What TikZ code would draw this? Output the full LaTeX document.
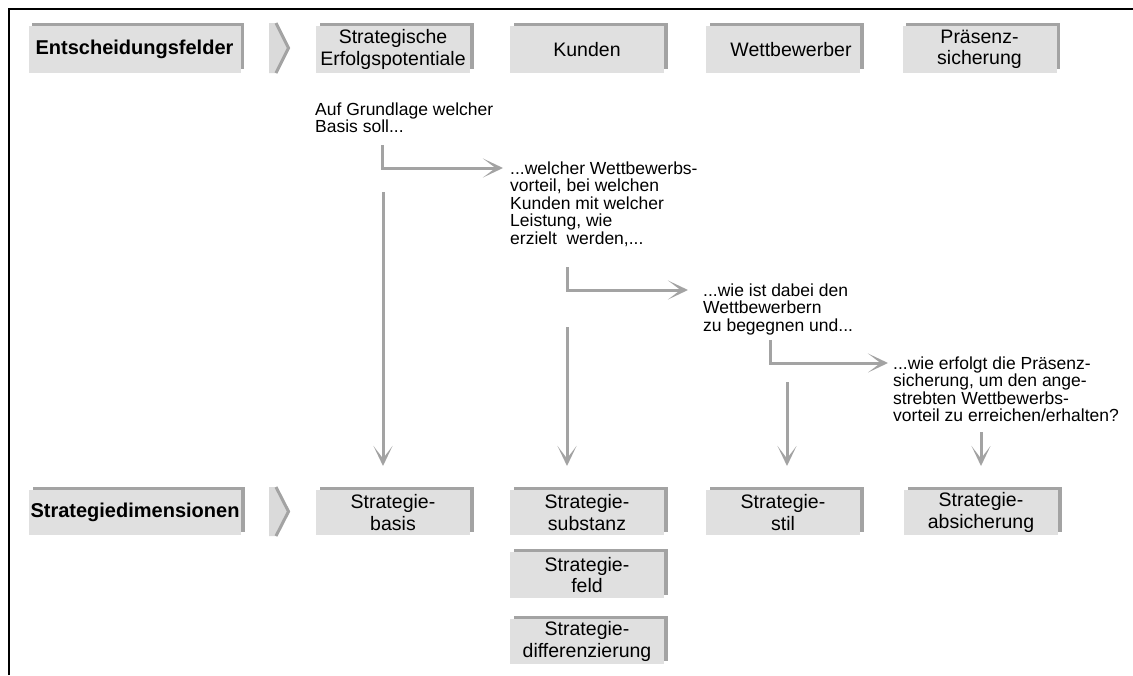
\documentclass[tikz,border=0pt]{standalone}
\usepackage{fontspec}
\setmainfont{Liberation Sans}
\usetikzlibrary{arrows.meta,shadows}
\definecolor{boxfill}{HTML}{E0E0E0}
\definecolor{boxshade}{HTML}{A3A3A3}
\definecolor{arrowgray}{HTML}{A3A3A3}
\definecolor{chevfill}{HTML}{DADADA}
\begin{document}
\begin{tikzpicture}[x=1pt,y=-1pt,
  box/.style={fill=boxfill, inner sep=0pt, minimum width=154pt, minimum height=46.5pt,
    align=center, font=\fontsize{19.5}{21.5}\selectfont,
    drop shadow={shadow xshift=3.5pt, shadow yshift=3.5pt, fill=boxshade, opacity=1}},
  labelbox/.style={box, minimum width=212pt, font=\bfseries\fontsize{20}{22}\selectfont},
  note/.style={anchor=base west, inner sep=0pt, font=\fontsize{17.5}{17.5}\selectfont},
  conn/.style={draw=arrowgray, line width=3pt, line join=miter,
    -{Stealth[length=20pt,width=19pt,inset=12.5pt,fill=arrowgray]}},
  chevedge/.style={draw=boxshade, line width=3pt, line join=miter},
]
\useasboundingbox (0,0) rectangle (1133,675);

% frame
\draw[line width=2.5pt, line join=miter] (9,675) -- (9,9) -- (1133,9);

% chevrons
\fill[chevfill] (269,23) -- (277,23) -- (290,48) -- (277,73) -- (269,73) -- cycle;
\draw[chevedge] (276,23) -- (288.5,48) -- (276,73);
\fill[chevfill] (269,487) -- (277,487) -- (290,511.5) -- (277,536) -- (269,536) -- cycle;
\draw[chevedge] (276,487) -- (288.5,511.5) -- (276,536);

% top row
\node[labelbox] (ef) at (134.5,49.5) {Entscheidungsfelder};
\node[box] (sep) at (393,49.5) {Strategische\\Erfolgspotentiale};
\node[box] (kun) at (587,49.5) {Kunden};
\node[box] (wet) at (783,49.5) {\hspace*{16pt}Wettbewerber};
\node[box] (pra) at (979.5,49.5) {Präsenz-\\sicherung};

% bottom row
\node[labelbox, minimum height=45pt] (sd) at (135,512.5) {Strategiedimensionen};
\node[box, minimum height=45pt] (sba) at (393,512.5) {Strategie-\\basis};
\node[box, minimum height=45pt] (ssu) at (587,512.5) {Strategie-\\substanz};
\node[box, minimum height=45pt] (sst) at (783,512.5) {Strategie-\\stil};
\node[box, minimum height=45pt] (sab) at (981,512.5) {Strategie-\\absicherung};
\node[box, minimum height=46pt] (sfe) at (587,575) {Strategie-\\feld};
\node[box, minimum height=45pt] (sdi) at (587,641.5) {Strategie-\\differenzierung};

% texts
\node[note] (t1) at (315,115) {\parbox[t]{220pt}{\raggedright Auf Grundlage welcher\\Basis soll...}};
\node[note] (t2) at (510,174) {\parbox[t]{200pt}{\raggedright ...welcher Wettbewerbs-\\vorteil, bei welchen\\Kunden mit welcher\\Leistung, wie\\erzielt\ \ werden,...}};
\node[note] (t3) at (703,296) {\parbox[t]{190pt}{\raggedright ...wie ist dabei den\\Wettbewerbern\\zu begegnen und...}};
\node[note] (t4) at (893,369) {\parbox[t]{240pt}{\raggedright ...wie erfolgt die Präsenz-\\sicherung, um den ange-\\strebten Wettbewerbs-\\vorteil zu erreichen/erhalten?}};

% connector points
\coordinate (a1s) at (382,145);
\coordinate (a1e) at (503,168);
\coordinate (a2s) at (567,267);
\coordinate (a2e) at (688,290);
\coordinate (a3s) at (770,340);
\coordinate (a3e) at (888,363);
\coordinate (v1s) at (383,192);
\coordinate (v1e) at (383,466);
\coordinate (v2s) at (567,327);
\coordinate (v2e) at (567,466);
\coordinate (v3s) at (787,382);
\coordinate (v3e) at (787,466);
\coordinate (v4s) at (981,432);
\coordinate (v4e) at (981,466);

\draw[conn] (a1s) |- (a1e);
\draw[conn] (a2s) |- (a2e);
\draw[conn] (a3s) |- (a3e);
\draw[conn] (v1s) -- (v1e);
\draw[conn] (v2s) -- (v2e);
\draw[conn] (v3s) -- (v3e);
\draw[conn] (v4s) -- (v4e);
\end{tikzpicture}
\end{document}
